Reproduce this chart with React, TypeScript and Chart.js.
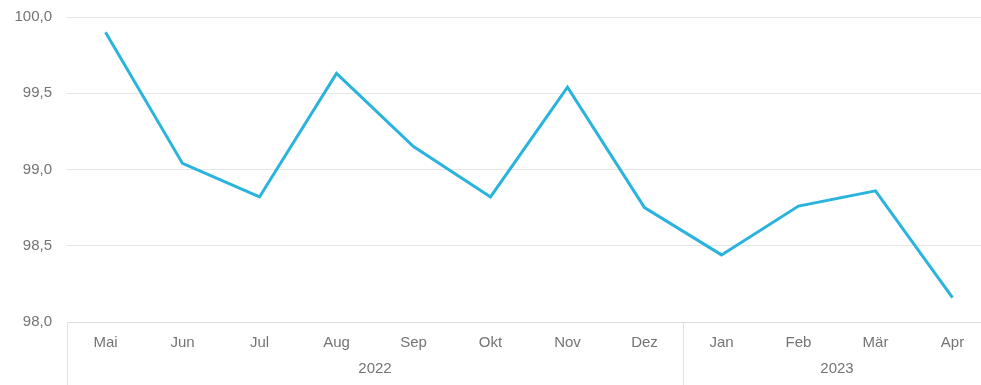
import React, { useEffect, useRef } from "react";
import { Chart, registerables } from "chart.js";

Chart.register(...registerables);

const months = ["Mai", "Jun", "Jul", "Aug", "Sep", "Okt", "Nov", "Dez", "Jan", "Feb", "Mär", "Apr"];
const values = [99.9, 99.04, 98.82, 99.63, 99.15, 98.82, 99.54, 98.75, 98.44, 98.76, 98.86, 98.16];
const years = ["2022", "2023"];
const yearStarts = [0, 8];
const yearEnds = [7, 11];

const FONT = "'Liberation Sans', Arial, sans-serif";
const TEXT = "#747474";

const yearPlugin = {
  id: "yearGroups",
  afterDraw(chart: any) {
    const { ctx, scales, chartArea, height } = chart;
    const x = scales.x;
    const half = (x.getPixelForValue(1) - x.getPixelForValue(0)) / 2;
    ctx.save();
    ctx.strokeStyle = "#e2e2e2";
    ctx.lineWidth = 1;
    ctx.fillStyle = TEXT;
    ctx.font = `15px ${FONT}`;
    ctx.textAlign = "center";
    ctx.textBaseline = "middle";
    years.forEach((y, i) => {
      const left = x.getPixelForValue(yearStarts[i]) - half;
      const right = x.getPixelForValue(yearEnds[i]) + half;
      const lx = Math.round(left) + 0.5;
      ctx.beginPath();
      ctx.moveTo(lx, chartArea.bottom);
      ctx.lineTo(lx, height);
      ctx.stroke();
      ctx.fillText(y, (left + right) / 2, 369);
    });
    ctx.restore();
  },
};

export default function App() {
  const ref = useRef<HTMLCanvasElement>(null);
  useEffect(() => {
    const chart = new Chart(ref.current!, {
      type: "line",
      data: {
        labels: months,
        datasets: [
          {
            data: values,
            borderColor: "#2ab4dd",
            borderWidth: 3,
            pointRadius: 0,
            tension: 0,
            fill: false,
          },
        ],
      },
      options: {
        animation: false,
        responsive: false,
        maintainAspectRatio: false,
        layout: { padding: { top: 17, right: 4, left: 0, bottom: 0 } },
        plugins: { legend: { display: false }, tooltip: { enabled: false } },
        scales: {
          x: {
            offset: true,
            grid: { display: false, drawTicks: false },
            border: { display: true, color: "#dcdcdc" },
            ticks: {
              color: TEXT,
              font: { family: FONT, size: 15 },
              padding: 12,
              maxRotation: 0,
              autoSkip: false,
            },
            afterFit: (s: any) => {
              s.height = 63;
            },
          },
          y: {
            min: 98,
            max: 100,
            grid: { color: "#e6e6e6", drawTicks: false },
            border: { display: false },
            ticks: {
              stepSize: 0.5,
              color: TEXT,
              font: { family: FONT, size: 15 },
              padding: 15,
              callback: (v: any) => Number(v).toFixed(1).replace(".", ","),
            },
            afterFit: (s: any) => {
              s.width = 67;
              s.paddingTop = 0;
              s.paddingBottom = 0;
            },
          },
        },
      },
      plugins: [yearPlugin],
    });
    return () => chart.destroy();
  }, []);
  return (
    <div
      style={{
        position: "fixed",
        left: 0,
        top: 0,
        width: 981,
        height: 385,
        overflow: "hidden",
        background: "#fff",
      }}
    >
      <canvas ref={ref} width={995} height={385} style={{ display: "block", width: 995, height: 385 }} />
    </div>
  );
}
